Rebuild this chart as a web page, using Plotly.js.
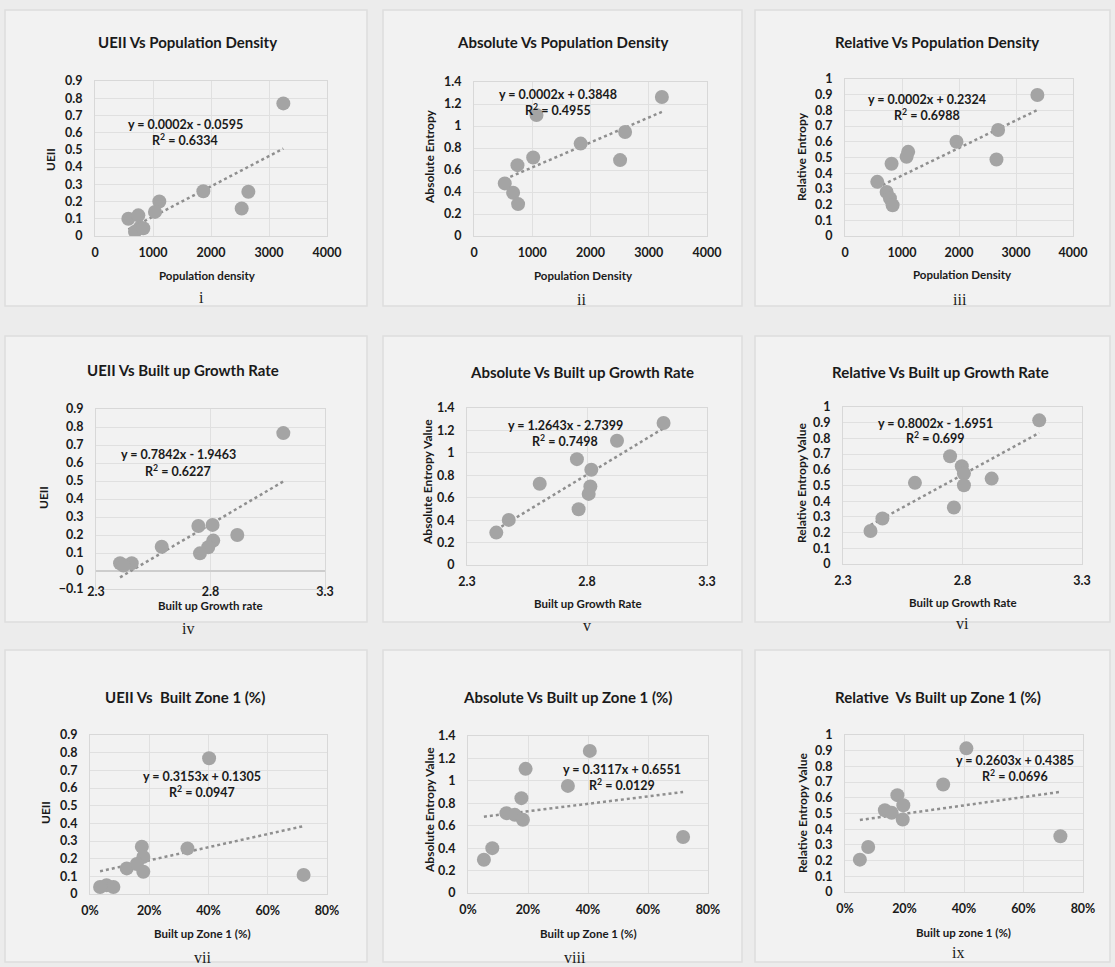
<!DOCTYPE html>
<html><head><meta charset="utf-8">
<script src="https://cdn.plot.ly/plotly-3.0.1.min.js"></script>
<style>html,body{margin:0;padding:0;background:#ececec;}#chart{width:1115px;height:967px;}</style>
</head><body><div id="chart"></div>
<script>
// ---------- data ----------
// i  UEII vs Population density
const popDensity_i = [3247,1868,2644,2529,1109,1034,575,747,776,690,833];
const uei_i        = [0.77,0.26,0.257,0.16,0.20,0.14,0.10,0.12,0.05,0.025,0.045];
// ii Absolute entropy vs Population density
const popDensity_ii = [3225,1073,2594,1831,2508,1016,746,528,671,757];
const absEnt_ii     = [1.264,1.10,0.946,0.84,0.69,0.714,0.644,0.478,0.393,0.29];
// iii Relative entropy vs Population density
const popDensity_iii = [3375,2686,1956,2657,1109,1080,817,566,730,788,835];
const relEnt_iii     = [0.898,0.675,0.60,0.487,0.536,0.504,0.46,0.345,0.28,0.24,0.196];
// iv UEII vs Built up growth rate
const growth_iv = [3.118,2.747,2.809,2.917,2.812,2.79,2.754,2.587,2.405,2.456,2.42];
const uei_iv    = [0.766,0.25,0.256,0.20,0.169,0.132,0.098,0.135,0.043,0.043,0.03];
// v Absolute entropy vs Built up growth rate
const growth_v = [3.119,2.925,2.758,2.818,2.814,2.807,2.603,2.765,2.474,2.422];
const absEnt_v = [1.266,1.108,0.944,0.849,0.70,0.634,0.724,0.497,0.402,0.289];
// vi Relative entropy vs Built up growth rate
const growth_vi = [3.121,2.748,2.797,2.806,2.806,2.922,2.601,2.764,2.465,2.415];
const relEnt_vi = [0.915,0.686,0.623,0.576,0.502,0.544,0.517,0.36,0.29,0.21];
// vii UEII vs Built up zone 1 (%)
const zone1_vii = [0.402,0.329,0.721,0.175,0.18,0.124,0.158,0.18,0.056,0.079,0.034];
const uei_vii   = [0.768,0.258,0.108,0.268,0.21,0.145,0.17,0.126,0.05,0.04,0.04];
// viii Absolute entropy vs Built up zone 1 (%)
const zone1_viii = [0.406,0.192,0.333,0.178,0.128,0.156,0.183,0.717,0.081,0.053];
const absEnt_viii= [1.267,1.107,0.955,0.846,0.712,0.697,0.653,0.499,0.40,0.297];
// ix Relative entropy vs Built up zone 1 (%)
const zone1_ix  = [0.408,0.33,0.176,0.196,0.134,0.157,0.194,0.724,0.078,0.05];
const relEnt_ix = [0.915,0.685,0.617,0.553,0.521,0.504,0.462,0.355,0.287,0.206];

const titles = ["UEII Vs Population Density","Absolute Vs Population Density","Relative Vs Population Density",
  "UEII Vs Built up Growth Rate","Absolute Vs Built up Growth Rate","Relative Vs Built up Growth Rate",
  "UEII Vs  Built Zone 1 (%)","Absolute Vs Built up Zone 1 (%)","Relative  Vs Built up Zone 1 (%)"];
const xTitles = ["Population density","Population Density","Population Density",
  "Built up Growth rate","Built up Growth Rate","Built up Growth Rate",
  "Built up Zone 1 (%)","Built up Zone 1 (%)","Built up zone 1 (%)"];
const yTitles = ["UEII","Absolute Entropy","Relative Entropy",
  "UEII","Absolute Entropy Value","Relative Entropy Value",
  "UEII","Absolute Entropy Value","Relative Entropy Value"];
const equations = ["y = 0.0002x - 0.0595","y = 0.0002x + 0.3848","y = 0.0002x + 0.2324",
  "y = 0.7842x - 1.9463","y = 1.2643x - 2.7399","y = 0.8002x - 1.6951",
  "y = 0.3153x + 0.1305","y = 0.3117x + 0.6551","y = 0.2603x + 0.4385"];
const rSquared = ["0.6334","0.4955","0.6988","0.6227","0.7498","0.699","0.0947","0.0129","0.0696"];
const numerals = ["i","ii","iii","iv","v","vi","vii","viii","ix"];

const seriesX = [popDensity_i,popDensity_ii,popDensity_iii,growth_iv,growth_v,growth_vi,zone1_vii,zone1_viii,zone1_ix];
const seriesY = [uei_i,absEnt_ii,relEnt_iii,uei_iv,absEnt_v,relEnt_vi,uei_vii,absEnt_viii,relEnt_ix];

// ---------- layout geometry (pixels) ----------
const W = 1115, H = 967;
const fx = v => v / W, fy = v => 1 - v / H;
const cfg = [
  {plot:[95,327,81,236],  xr:[0,4000],dx:1000,yr:[0,0.9],dy:0.1,title:[187,42],xt:[207,276],num:[201,298],yt:[50,160],eq:[185,125],box:[5,367,10,306]},
  {plot:[474,707,82,236], xr:[0,4000],dx:1000,yr:[0,1.4],dy:0.2,title:[563,42],xt:[583,276],num:[581,300],yt:[429,157],eq:[558,94],box:[383,742,10,306]},
  {plot:[845,1073,79,236],xr:[0,4000],dx:1000,yr:[0,1],dy:0.1,title:[937,42],xt:[962,275],num:[960,300],yt:[801,157],eq:[927,99],box:[755,1110,10,306]},
  {plot:[96,325,409,589], xr:[2.3,3.3],dx:0.5,yr:[-0.1,0.9],dy:0.1,title:[183,370],xt:[210,605],num:[188,628],yt:[43,498],eq:[178,455],box:[5,367,336,622],xstand:-9},
  {plot:[467,707,408,565],xr:[2.3,3.3],dx:0.5,yr:[0,1.4],dy:0.2,title:[582,372],xt:[588,603],num:[587,625],yt:[427,482],eq:[565,426],box:[383,742,336,622]},
  {plot:[843,1082,407,564],xr:[2.3,3.3],dx:0.5,yr:[0,1],dy:0.1,title:[940,372],xt:[963,602],num:[962,623],yt:[801,483],eq:[935,423],box:[755,1110,336,622]},
  {plot:[90,327,735,894], xr:[0,0.8],dx:0.2,yr:[0,0.9],dy:0.1,title:[185,697],xt:[203,933],num:[202,957],yt:[45,813],eq:[202,776],pct:true,box:[5,367,650,962]},
  {plot:[468,708,736,893],xr:[0,0.8],dx:0.2,yr:[0,1.4],dy:0.2,title:[567,697],xt:[588,933],num:[575,957],yt:[429,810],eq:[622,769],pct:true,box:[383,742,650,962]},
  {plot:[845,1083,735,892],xr:[0,0.8],dx:0.2,yr:[0,1],dy:0.1,title:[938,697],xt:[963,932],num:[958,952],yt:[802,813],eq:[1015,760],pct:true,box:[755,1110,650,962]}
];

const FONT = "Lato, 'Open Sans', sans-serif";
const traces = [], annotations = [], shapes = [];
const layout = {
  width: W, height: H, margin:{l:0,r:0,t:0,b:0},
  paper_bgcolor:"#ececec", plot_bgcolor:"rgba(0,0,0,0)", showlegend:false,
  font:{family:FONT, color:"#1a1a1a"}
};

function fit(xs, ys){
  const n = xs.length;
  const mx = xs.reduce((a,b)=>a+b,0)/n, my = ys.reduce((a,b)=>a+b,0)/n;
  let sxy=0, sxx=0;
  for(let i=0;i<n;i++){ sxy += (xs[i]-mx)*(ys[i]-my); sxx += (xs[i]-mx)**2; }
  const m = sxy/sxx; return {m, b: my - m*mx};
}

cfg.forEach((c,i)=>{
  const k = i===0 ? "" : String(i+1);
  const xa = "x"+k, ya = "y"+k;
  shapes.push({type:"rect",xref:"paper",yref:"paper",x0:fx(c.box[0]),x1:fx(c.box[1]),y0:fy(c.box[3]),y1:fy(c.box[2]),
    fillcolor:"#f2f2f2",line:{color:"#dddddd",width:1.5},layer:"below"});
  layout["xaxis"+k] = {domain:[fx(c.plot[0]),fx(c.plot[1])], anchor:ya, range:c.xr, dtick:c.dx, tick0:c.xr[0],
    showgrid:true, gridcolor:"#e0e0e0", gridwidth:1, zeroline:false, showline:true, linecolor:"#d8d8d8", mirror:true,
    ticks:"", ticklabelstandoff: (c.xstand!==undefined ? c.xstand : 5), tickformat: c.pct ? ".0%" : "", fixedrange:true,
    tickfont:{family:FONT,size:12.5,color:"#1a1a1a",weight:"bold"}};
  layout["yaxis"+k] = {domain:[fy(c.plot[3]),fy(c.plot[2])], anchor:xa, range:c.yr, dtick:c.dy, tick0:0,
    showgrid:true, gridcolor:"#e0e0e0", gridwidth:1, zeroline:true, zerolinecolor:"#cdcdcd", zerolinewidth:1.2,
    showline:true, linecolor:"#d8d8d8", mirror:true, ticks:"", ticklabelstandoff:9, fixedrange:true,
    tickfont:{family:FONT,size:12.5,color:"#1a1a1a",weight:"bold"}};
  const xs = seriesX[i], ys = seriesY[i];
  const f = fit(xs, ys);
  const xmin = Math.min(...xs), xmax = Math.max(...xs);
  traces.push({type:"scatter",mode:"lines",x:[xmin,xmax],y:[f.m*xmin+f.b,f.m*xmax+f.b],xaxis:xa,yaxis:ya,
    line:{color:"#8f8f8f",width:2.5,dash:"dot"},hoverinfo:"skip"});
  traces.push({type:"scatter",mode:"markers",x:xs,y:ys,xaxis:xa,yaxis:ya,
    marker:{size:14,color:"#a4a4a4",line:{width:0}}});
  const A = (x,y,text,size,extra)=>annotations.push(Object.assign({xref:"paper",yref:"paper",x:fx(x),y:fy(y),text,showarrow:false,
    xanchor:"center",yanchor:"middle",font:{family:FONT,size,color:"#1a1a1a",weight:"bold"}},extra||{}));
  A(c.title[0],c.title[1],titles[i],15);
  A(c.xt[0],c.xt[1],xTitles[i],11.5);
  A(c.num[0],c.num[1],numerals[i],15,{font:{family:"'Liberation Serif', serif",size:16,color:"#1a1a1a"}});
  A(c.yt[0],c.yt[1],yTitles[i],12,{textangle:-90});
  A(c.eq[0],c.eq[1],equations[i],12.5);
  A(c.eq[0],c.eq[1]+15,"R<sup>2</sup> = "+rSquared[i],12.5);
});
layout.annotations = annotations;
layout.shapes = shapes;
Plotly.newPlot("chart", traces, layout, {staticPlot:true, displayModeBar:false});
</script></body></html>
